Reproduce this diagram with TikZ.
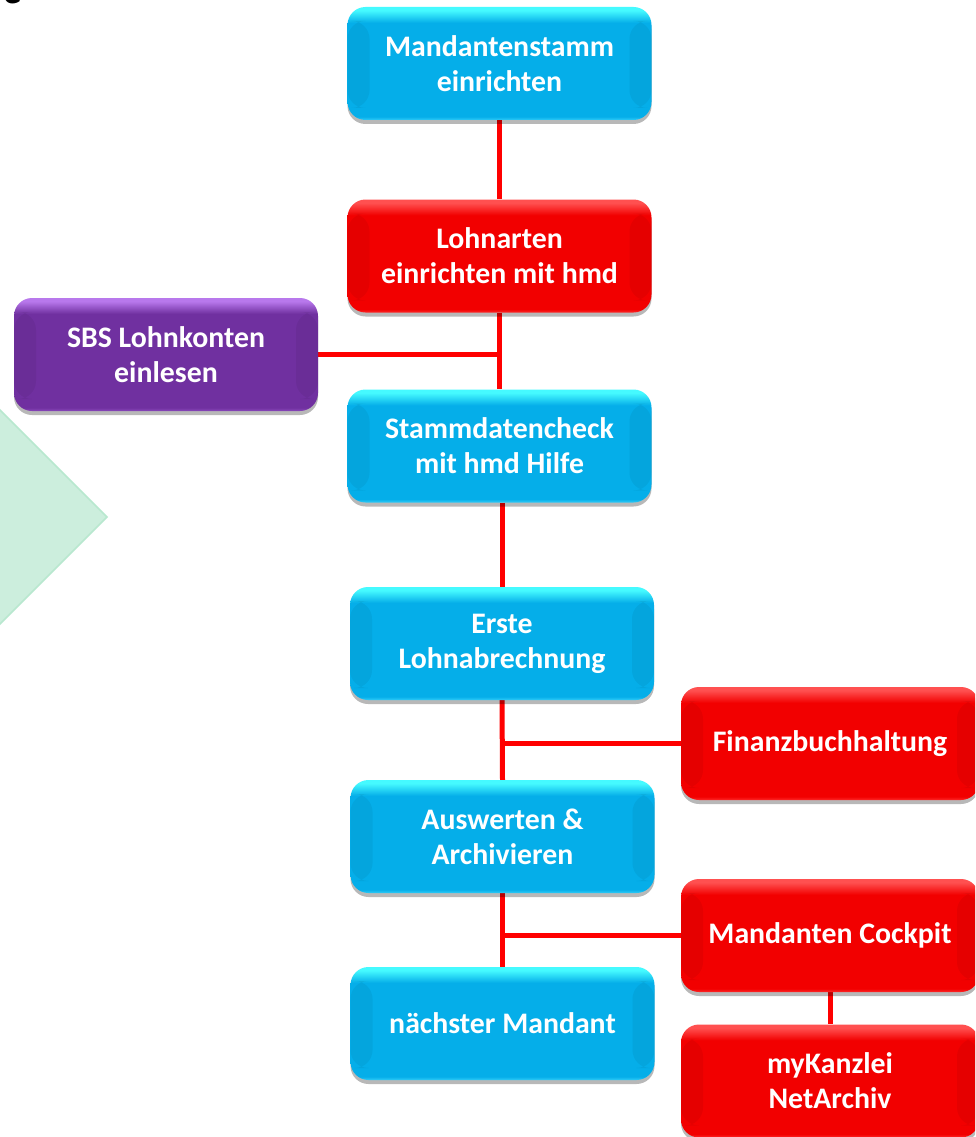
\documentclass[tikz,border=0pt]{standalone}
\usepackage{fontspec}
\setmainfont{Carlito}
\usetikzlibrary{shadows,backgrounds}
\definecolor{bluetop}{HTML}{45FAFF}
\definecolor{bluemain}{HTML}{05AEE9}
\definecolor{bluebot}{HTML}{30CCF8}
\definecolor{redtop}{HTML}{FF5050}
\definecolor{redmain}{HTML}{F20000}
\definecolor{redbot}{HTML}{FF2A2A}
\definecolor{purtop}{HTML}{B878EC}
\definecolor{purmain}{HTML}{7030A0}
\definecolor{purbot}{HTML}{8A48BC}
\definecolor{linered}{HTML}{FF0000}
\definecolor{diafill}{HTML}{CCEEDD}
\definecolor{diaedge}{HTML}{B8E8CF}
\pgfdeclareverticalshading{blueglossy}{100bp}{color(0bp)=(bluebot); color(25bp)=(bluebot); color(26.5bp)=(bluemain); color(68bp)=(bluemain); color(73.5bp)=(bluetop); color(75bp)=(bluetop); color(100bp)=(bluetop)}
\pgfdeclareverticalshading{redglossy}{100bp}{color(0bp)=(redbot); color(25bp)=(redbot); color(26.5bp)=(redmain); color(68bp)=(redmain); color(73.5bp)=(redtop); color(75bp)=(redtop); color(100bp)=(redtop)}
\pgfdeclareverticalshading{purglossy}{100bp}{color(0bp)=(purbot); color(25bp)=(purbot); color(26.5bp)=(purmain); color(68bp)=(purmain); color(73.5bp)=(purtop); color(75bp)=(purtop); color(100bp)=(purtop)}
\tikzset{
  box/.style={rectangle, rounded corners=18pt, minimum width=304pt, minimum height=113pt,
    inner sep=0pt, align=center, text=white,
    font=\bfseries\fontsize{29.8}{35}\selectfont,
    drop shadow={shadow xshift=0pt, shadow yshift=-4pt, opacity=.28, fill=black},
    path picture={
      \fill[black, opacity=.05] ([yshift=12pt]path picture bounding box.south west) rectangle ([xshift=22pt, yshift=-14pt]path picture bounding box.north west);
      \fill[black, opacity=.05] ([xshift=-22pt, yshift=12pt]path picture bounding box.south east) rectangle ([yshift=-14pt]path picture bounding box.north east);
    }},
  bluebox/.style={box, shading=blueglossy},
  redbox/.style={box, shading=redglossy},
  purbox/.style={box, shading=purglossy},
  link/.style={draw=linered, line width=5pt}
}
\begin{document}
\begin{tikzpicture}[x=1pt, y=-1pt]
\useasboundingbox (0,0) rectangle (975,1137);
\clip (0,0) rectangle (975,1137);
% main column
\node[bluebox] (m1) at (499.5,63.5) {Mandantenstamm\\einrichten};
\node[redbox]  (m2) at (499.5,256) {Lohnarten\\einrichten mit hmd};
\node[bluebox] (m3) at (499.5,446) {Stammdatencheck\\mit hmd Hilfe};
\node[bluebox] (m4) at (502,643.5) {Erste\\Lohnabrechnung};
\node[bluebox] (m5) at (502.5,836.5) {Auswerten \&\\Archivieren};
\node[bluebox] (m6) at (502.5,1023.5) {nächster Mandant};
% side boxes
\node[purbox] (sbs) at (166,354.5) {SBS Lohnkonten\\einlesen};
\node[redbox, minimum width=298pt] (fin) at (830,743.5) {Finanzbuchhaltung};
\node[redbox, minimum width=298pt] (cock) at (830,935.5) {Mandanten Cockpit};
\node[redbox, minimum width=298pt] (myk) at (830,1081) {myKanzlei\\NetArchiv};
% cut-off heading fragment
\node[anchor=base west, inner sep=0pt, text=black, font=\bfseries\fontsize{60}{64}\selectfont] (frag) at (0,4) {t};
\begin{scope}[on background layer]
\fill[white] (0,0) rectangle (975,1137);
% background diamond
\filldraw[fill=diafill, draw=diaedge, line width=1.5pt] (-3,407) -- (107,517) -- (-3,627) -- (-113,517) -- cycle;
% connectors
\draw[link] (m1.south) -- (m2.north);
\draw[link] (m2.south) -- (m3.north);
\draw[link] (sbs.east) -- (sbs.east -| m2.south);
\draw[link] (m3.south -| m4.north) -- (m4.north);
\draw[link] (m4.south) -- (m5.north);
\draw[link] (fin.west) -- (fin.west -| m4.south);
\draw[link] (m5.south) -- (m6.north);
\draw[link] (cock.west) -- (cock.west -| m5.south);
\draw[link] (cock.south) -- (myk.north);
\end{scope}
\end{tikzpicture}
\end{document}
